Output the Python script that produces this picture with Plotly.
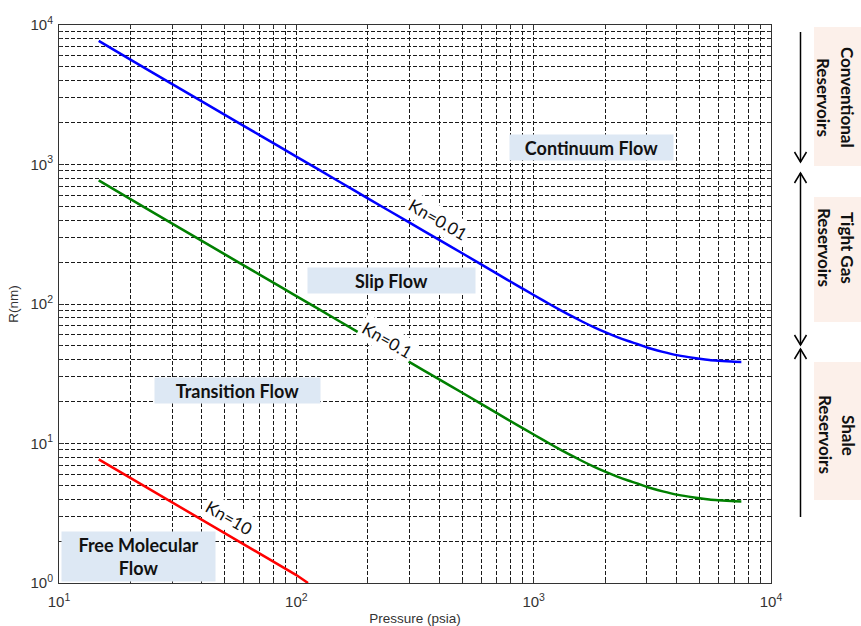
import plotly.graph_objects as go

# Pore radius (nm) vs. pressure (psia) along constant Knudsen-number lines
pressure = [14.7, 20, 30, 50, 70, 100, 150, 200, 300, 400, 500, 700, 850,
            1000, 1200, 1400, 1600, 1800, 2000, 2250, 2500, 2750, 3000, 3500,
            4000, 4500, 5000, 5500, 6000, 6500, 7000, 7500]
r_kn_001 = [7690, 5650, 3770, 2270, 1625, 1140, 762, 572, 383, 288, 231, 165, 136,
            116, 97.2, 84.2, 74.9, 68.0, 62.8, 57.9, 54.3, 51.5, 48.8, 45.4,
            43.0, 41.6, 40.5, 39.7, 39.2, 38.8, 38.5, 38.4]
r_kn_01 = [769, 565, 377, 227, 162.5, 114, 76.2, 57.2, 38.3, 28.8, 23.1, 16.5, 13.6,
           11.6, 9.72, 8.42, 7.49, 6.80, 6.28, 5.79, 5.43, 5.15, 4.88, 4.54,
           4.30, 4.16, 4.05, 3.97, 3.92, 3.88, 3.85, 3.84]
pressure_kn10 = [14.7, 20, 30, 50, 70, 100, 112]
r_kn_10 = [7.69, 5.65, 3.77, 2.27, 1.625, 1.14, 1.0]

decades = [1, 10, 100, 1000, 10000]
decade_labels = ["10<sup>0</sup>", "10<sup>1</sup>", "10<sup>2</sup>",
                 "10<sup>3</sup>", "10<sup>4</sup>"]

# Plot frame in pixels (used to place the side decorations)
L, R, T, B = 59, 771, 25, 583
W, H = 861, 626


def px(x):
    return (x - L) / (R - L)


def py(y):
    return (B - y) / (B - T)


fig = go.Figure()
fig.add_trace(go.Scatter(x=pressure, y=r_kn_001, mode="lines",
                         line=dict(color="#0000ff", width=2.5, shape="spline", smoothing=0.6),
                         showlegend=False))
fig.add_trace(go.Scatter(x=pressure, y=r_kn_01, mode="lines",
                         line=dict(color="#008000", width=2.5, shape="spline", smoothing=0.6),
                         showlegend=False))
fig.add_trace(go.Scatter(x=pressure_kn10, y=r_kn_10, mode="lines",
                         line=dict(color="#ff0000", width=2.5), showlegend=False))

grid = dict(gridcolor="#1a1a1a", gridwidth=1, griddash="4px,2px")
axis_common = dict(
    type="log", tickmode="array", tickvals=decades, ticktext=decade_labels,
    showgrid=True, **grid, automargin=False,
    ticks="inside", ticklen=5, tickcolor="#333", showline=True, linecolor="#333",
    linewidth=1, mirror="allticks", zeroline=False,
    tickfont=dict(family="Liberation Sans", size=15, color="#333"),
    minor=dict(dtick="D1", showgrid=True, ticks="inside", ticklen=3,
               tickcolor="#333", **grid),
)

title_font = dict(family="Liberation Sans", size=13.5, color="#333")
fig.update_xaxes(range=[1, 4], **axis_common, ticklabelstandoff=5,
                 title=dict(text="Pressure (psia)", standoff=4, font=title_font))
fig.update_yaxes(range=[0, 4], **axis_common, ticklabelstandoff=2,
                 title=dict(text="R(nm)", standoff=8, font=title_font))

region_bg = "#dde8f4"
region_font = dict(family="Lato", size=18, color="#111")
annotations = []
for text, x, y, w, h in [
    ("<b>Continuum Flow</b>", 3.2437, 3.1219, 163, 25),
    ("<b>Slip Flow</b>", 2.401, 2.1685, 167, 25),
    ("<b>Transition Flow</b>", 1.752, 1.380, 165, 25),
    ("<b>Free Molecular<br>Flow</b>", 1.335, 0.19, 153, 49),
]:
    annotations.append(dict(x=x, y=y, xref="x", yref="y", text=text, showarrow=False,
                            bgcolor=region_bg, width=w, height=h, font=region_font,
                            xanchor="center", yanchor="middle", borderpad=0))

kn_font = dict(family="Lato", size=17, color="#111")
for text, x, y in [("Kn=0.01", 2.597, 2.606), ("Kn=0.1", 2.38, 1.742), ("Kn=10", 1.716, 0.47)]:
    annotations.append(dict(x=x, y=y, xref="x", yref="y", text=text, showarrow=False,
                            textangle=30, bgcolor="white", font=kn_font, borderpad=2))

# Reservoir bands on the right
shapes = []
side_bg = "#fcf0ea"
for y0, y1 in [(27, 166), (197, 322), (362, 500)]:
    shapes.append(dict(type="rect", xref="paper", yref="paper", x0=px(814), x1=px(W + 5),
                       y0=py(y1), y1=py(y0), fillcolor=side_bg, line=dict(width=0), layer="below"))

side_font = dict(family="Lato", size=17, color="#111")
for text, xc, yc in [("Conventional", 848, 97), ("Reservoirs", 824, 97),
                     ("Tight Gas", 848, 248), ("Reservoirs", 825, 248),
                     ("Shale", 848, 435), ("Reservoirs", 825, 435)]:
    annotations.append(dict(x=px(xc), y=py(yc), xref="paper", yref="paper",
                            text=f"<b>{text}</b>", showarrow=False, textangle=90,
                            font=side_font, xanchor="center", yanchor="middle"))

ax_x = 800.5
arrow_line = dict(color="black", width=1.5)
for y0, y1 in [(32, 162), (173, 345), (349, 517)]:
    shapes.append(dict(type="line", xref="paper", yref="paper", x0=px(ax_x), x1=px(ax_x),
                       y0=py(y0), y1=py(y1), line=arrow_line))


def head(tip_y, direction):
    d = 10 * direction
    return (f"M {px(ax_x - 6)} {py(tip_y - d)} L {px(ax_x)} {py(tip_y)} "
            f"L {px(ax_x + 6)} {py(tip_y - d)}")


for tip, direction in [(162, 1), (173, -1), (345, 1), (349, -1)]:
    shapes.append(dict(type="path", xref="paper", yref="paper", path=head(tip, direction),
                       line=arrow_line))

fig.update_layout(
    width=W, height=H, margin=dict(l=L, r=W - R, t=T, b=H - B, autoexpand=False),
    paper_bgcolor="white", plot_bgcolor="white",
    annotations=annotations, shapes=shapes,
)

fig.write_html("out.html")
